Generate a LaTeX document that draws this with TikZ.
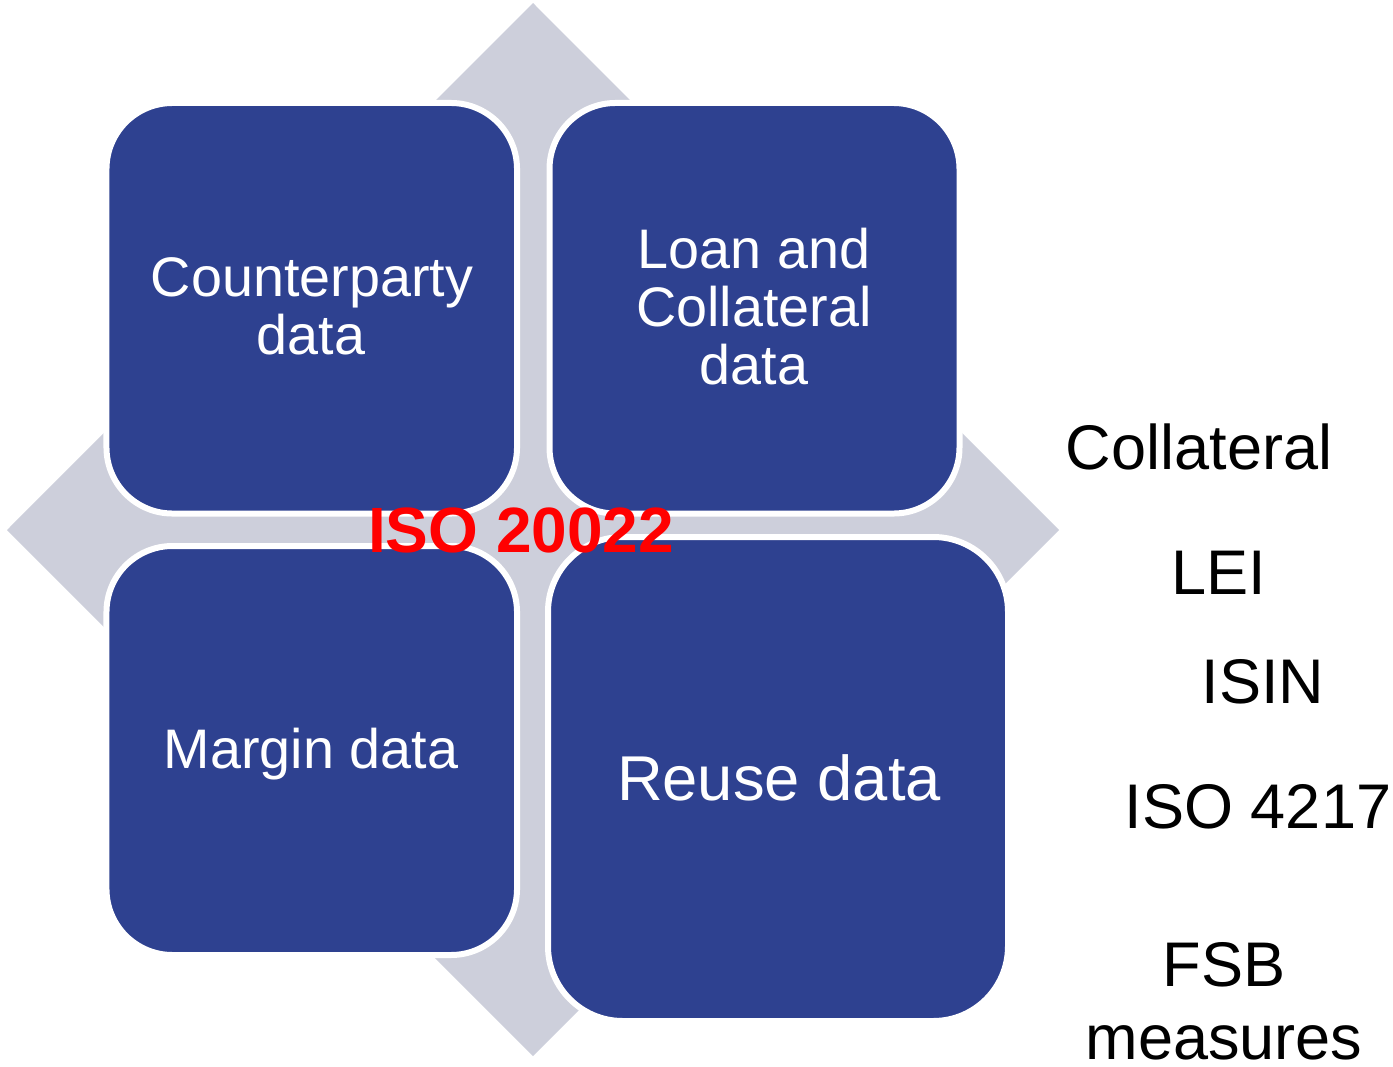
\documentclass[tikz,border=0pt]{standalone}
\usepackage{fontspec}
\setmainfont{Liberation Sans}
\definecolor{boxblue}{RGB}{46,65,144}
\definecolor{diamondgray}{RGB}{205,207,219}
\definecolor{isored}{RGB}{255,0,0}
\tikzset{
  quad/.style={draw=white, line width=4.5pt, fill=boxblue, inner sep=0pt, rectangle},
  boxtext/.style={anchor=base, text=white, inner sep=0pt, font=\fontsize{41.8}{50}\selectfont},
  sidetext/.style={anchor=base, text=black, inner sep=0pt, font=\fontsize{47.3}{56}\selectfont},
}
\begin{document}
\begin{tikzpicture}[x=0.75pt, y=-0.75pt]
\useasboundingbox (0,0) rectangle (1393,1067);

% background diamond
\fill[diamondgray] (533,3) -- (1059,530) -- (533,1056) -- (7,530) -- cycle;

% four quadrant boxes
\node[quad, rounded corners=49.5pt, minimum width=307.9pt, minimum height=307.9pt] (tl) at (311.75,308.25) {};
\node[quad, rounded corners=49.5pt, minimum width=307.5pt, minimum height=307.9pt] (tr) at (754.5,308.25) {};
\node[quad, rounded corners=49.5pt, minimum width=307.9pt, minimum height=306.75pt] (bl) at (311.75,750.5) {};
\node[quad, rounded corners=56pt, minimum width=345pt, minimum height=363pt] (br) at (778,779) {};

% box labels
\node[boxtext] (cp1) at (312,296) {Counterparty};
\node[boxtext] (cp2) at (311,354) {data};
\node[boxtext] (lc1) at (754,268) {Loan and};
\node[boxtext] (lc2) at (754,326) {Collateral};
\node[boxtext] (lc3) at (754,384) {data};
\node[boxtext] (mg) at (311,768) {Margin data};
\node[boxtext, font=\fontsize{47.5}{56}\selectfont] (ru) at (779,800) {Reuse data};

% centre label
\node[anchor=base, inner sep=0pt, text=isored, font=\bfseries\fontsize{48}{56}\selectfont] (iso) at (521,552) {ISO 20022};

% standards listed on the right
\node[sidetext] (s1) at (1199,469) {Collateral};
\node[sidetext] (s2) at (1219,594) {LEI};
\node[sidetext] (s3) at (1263,703) {ISIN};
\node[sidetext] (s4) at (1258,828) {ISO 4217};
\node[sidetext] (s5) at (1224,986) {FSB};
\node[sidetext] (s6) at (1224,1059) {measures};
\end{tikzpicture}
\end{document}
